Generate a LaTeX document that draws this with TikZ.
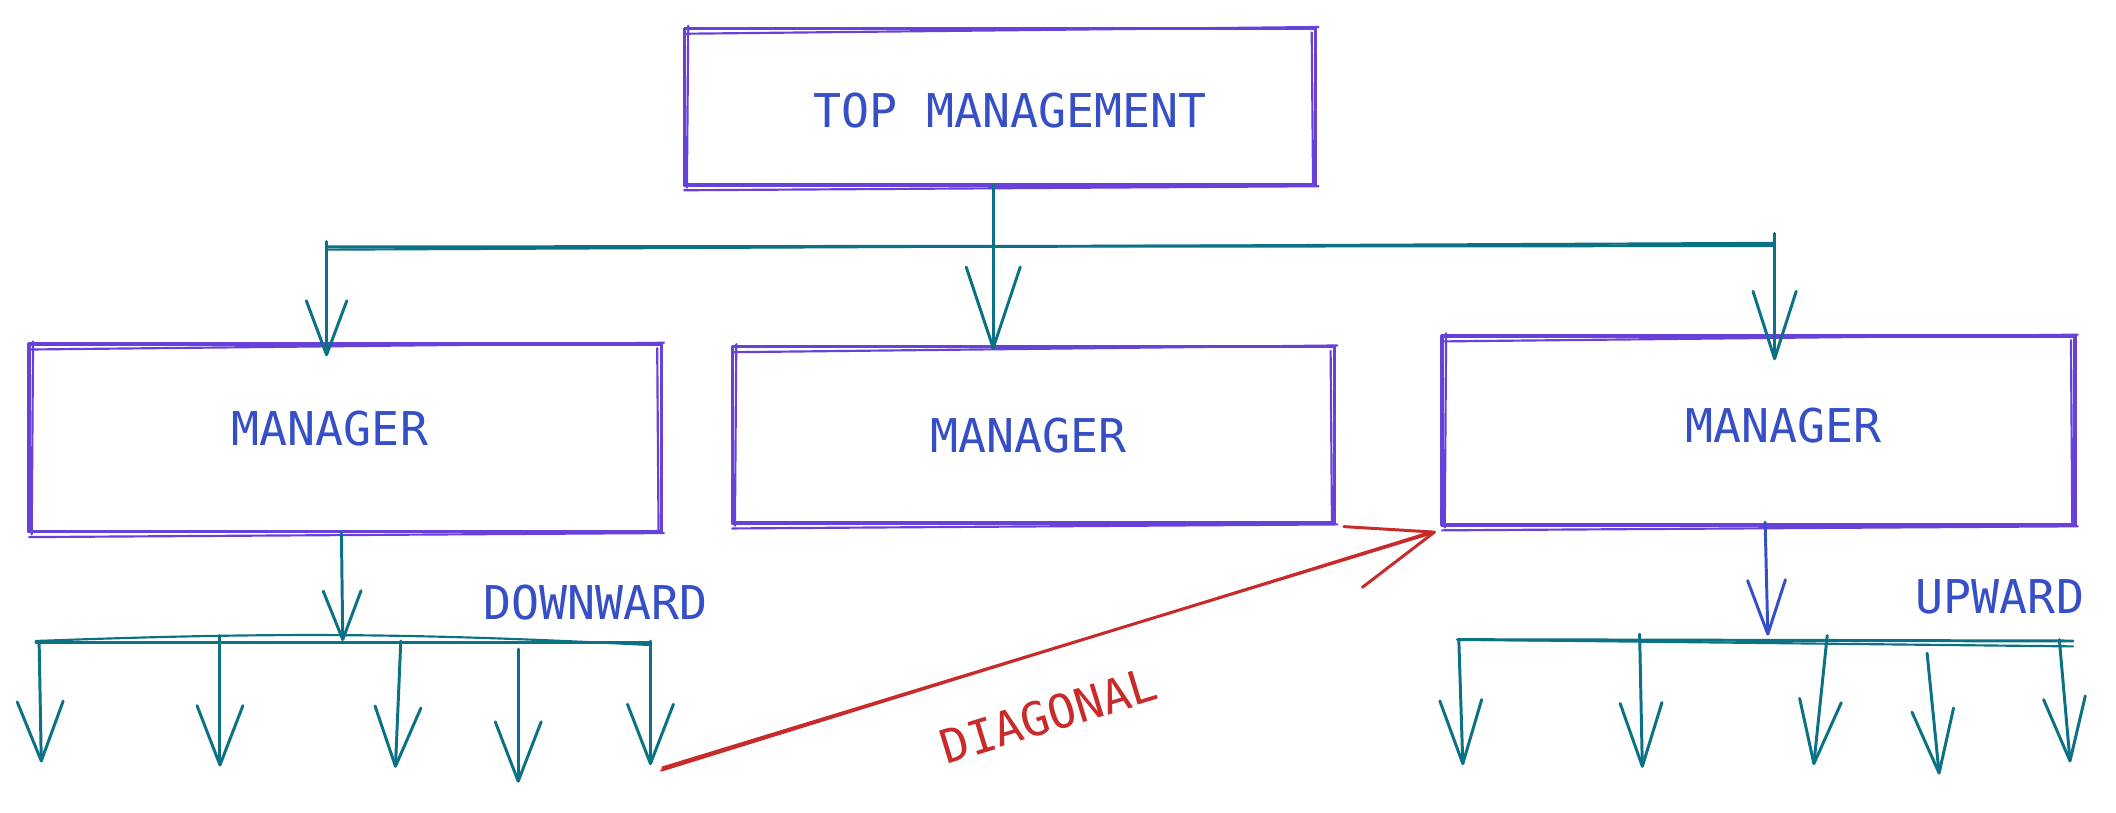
\documentclass[tikz,border=0pt]{standalone}
\usepackage{fontspec}
\newfontfamily\monof{DejaVu Sans Mono}
\usetikzlibrary{arrows.meta}
\definecolor{boxc}{HTML}{6741D9}
\definecolor{txtc}{HTML}{364FC7}
\definecolor{tealc}{HTML}{0B7285}
\definecolor{redc}{HTML}{C92A2A}
\newcommand\skbox[1]{%
  \draw[sk] ([shift={(1,4)}]#1.north west) -- ([shift={(2,-1)}]#1.north east);
  \draw[sk] ([shift={(0,4)}]#1.south west) -- ([shift={(2,1)}]#1.south east);
  \draw[sk] ([shift={(3,-2)}]#1.north west) -- ([shift={(2,2)}]#1.south west);
  \draw[sk] ([shift={(-3,3)}]#1.north east) -- ([shift={(-2,0)}]#1.south east);
}
\begin{document}
\begin{tikzpicture}[x=0.5pt,y=-0.5pt,
  box/.style={draw=boxc, line width=1.25pt, inner sep=0pt, outer sep=0pt, line join=round},
  sk/.style={draw=boxc, line width=0.8pt, line cap=round},
  txt/.style={font=\monof\fontsize{17.25}{20}\selectfont, text=txtc, inner sep=0pt},
  ar/.style={draw=tealc, line width=1.1pt, line cap=round, line join=round},
  ar2/.style={draw=tealc, line width=0.8pt, line cap=round},
  ind/.style={draw=txtc, line width=1.1pt, line cap=round, line join=round},
  redar/.style={draw=redc, line width=1.1pt, line cap=round, line join=round},
  red2/.style={draw=redc, line width=0.8pt, line cap=round},
  tipB/.style={-{Straight Barb[length=22pt,width=17pt,round]}},
  tipR/.style={-{Straight Barb[length=23.5pt,width=15.5pt,round]}}
]
\fill[white] (0,0) rectangle (1568,602.4);
\useasboundingbox (0,0) rectangle (1568,602.4);

% boxes
\node[box, minimum width=234pt, minimum height=58pt] (top) at (741,79) {};
\node[box, minimum width=234.25pt, minimum height=69.5pt] (m1) at (255.75,324.5) {};
\node[box, minimum width=223.2pt, minimum height=65.3pt] (m2) at (765.8,322.3) {};
\node[box, minimum width=234.5pt, minimum height=70pt] (m3) at (1303.1,319) {};
\skbox{top}
\skbox{m1}
\skbox{m2}
\skbox{m3}

% texts
\node[txt] (toptxt) at (748.5,82) {TOP MANAGEMENT};
\node[txt] (m1txt) at (244.5,317.5) {MANAGER};
\node[txt] (m2txt) at (762,323) {MANAGER};
\node[txt] (m3txt) at (1321.5,315) {MANAGER};
\node[txt] (down) at (441.5,446.5) {DOWNWARD};
\node[txt] (up) at (1482,442) {UPWARD};
\node[txt, text=redc, rotate=17] (diag) at (777,530) {DIAGONAL};

% top level connectors
\coordinate (hL) at (242,183);
\coordinate (hR) at (1315,182);
\draw[ar] (hL) -- (hR);
\draw[ar2] ([shift={(0,2)}]hL) -- ([shift={(0,-2)}]hR);
\draw[ar, -{Straight Barb[length=30pt,width=20pt,round]}] ([shift={(-5,0)}]top.south) -- ([shift={(-29.8,2)}]m2.north);
\draw[ar, -{Straight Barb[length=20pt,width=15pt,round]}] ([shift={(0,-4)}]hL) -- ([shift={(-13.75,9)}]m1.north);
\draw[ar, -{Straight Barb[length=25pt,width=16pt,round]}] ([shift={(0,-9)}]hR) -- ([shift={(11.9,18)}]m3.north);

% left manager downward
\coordinate (blL) at (26.5,476);
\coordinate (blR) at (482,476);
\coordinate (blT) at (254,475);
\draw[ar, -{Straight Barb[length=18pt,width=14pt,round]}] ([shift={(-2.75,1)}]m1.south) -- (blT);
\draw[ar] (blL) -- (blR);
\draw[ar2] ([shift={(0,-1)}]blL) to[bend left=2.5] ([shift={(0,2)}]blR);
\foreach \i/\xs/\ys/\xt/\yt in {1/29/476/30.6/565, 2/163/471/163/568, 3/297/475/293/569, 4/384/481/384/580, 5/482/475/482/567}{
  \coordinate (ls\i) at (\xs,\ys);
  \coordinate (l\i) at (\xt,\yt);
  \draw[ar, tipB] (ls\i) -- (l\i);
}

% right manager
\coordinate (brL) at (1080,474);
\coordinate (brR) at (1536,475);
\coordinate (brT) at (1310,471);
\draw[ind, -{Straight Barb[length=20pt,width=14pt,round]}] ([shift={(4.9,-2)}]m3.south) -- (brT);
\draw[ar] (brL) -- (brR);
\draw[ar2] (brL) -- ([shift={(0,4)}]brR);
\foreach \i/\xs/\ys/\xt/\yt in {1/1081/474/1084/567, 2/1215/470/1217/569, 3/1354/471/1344/567, 4/1428/484/1437/574, 5/1526/474/1534/565}{
  \coordinate (rs\i) at (\xs,\ys);
  \coordinate (r\i) at (\xt,\yt);
  \draw[ar, tipR] (rs\i) -- (r\i);
}

% diagonal
\draw[redar, -{Straight Barb[length=31.5pt,width=23.5pt,round]}] ([shift={(9,2)}]l5) -- ([shift={(-4.6,5)}]m3.south west);
\draw[red2] ([shift={(8,4)}]l5) -- ([shift={(-8,5)}]m3.south west);
\end{tikzpicture}
\end{document}
